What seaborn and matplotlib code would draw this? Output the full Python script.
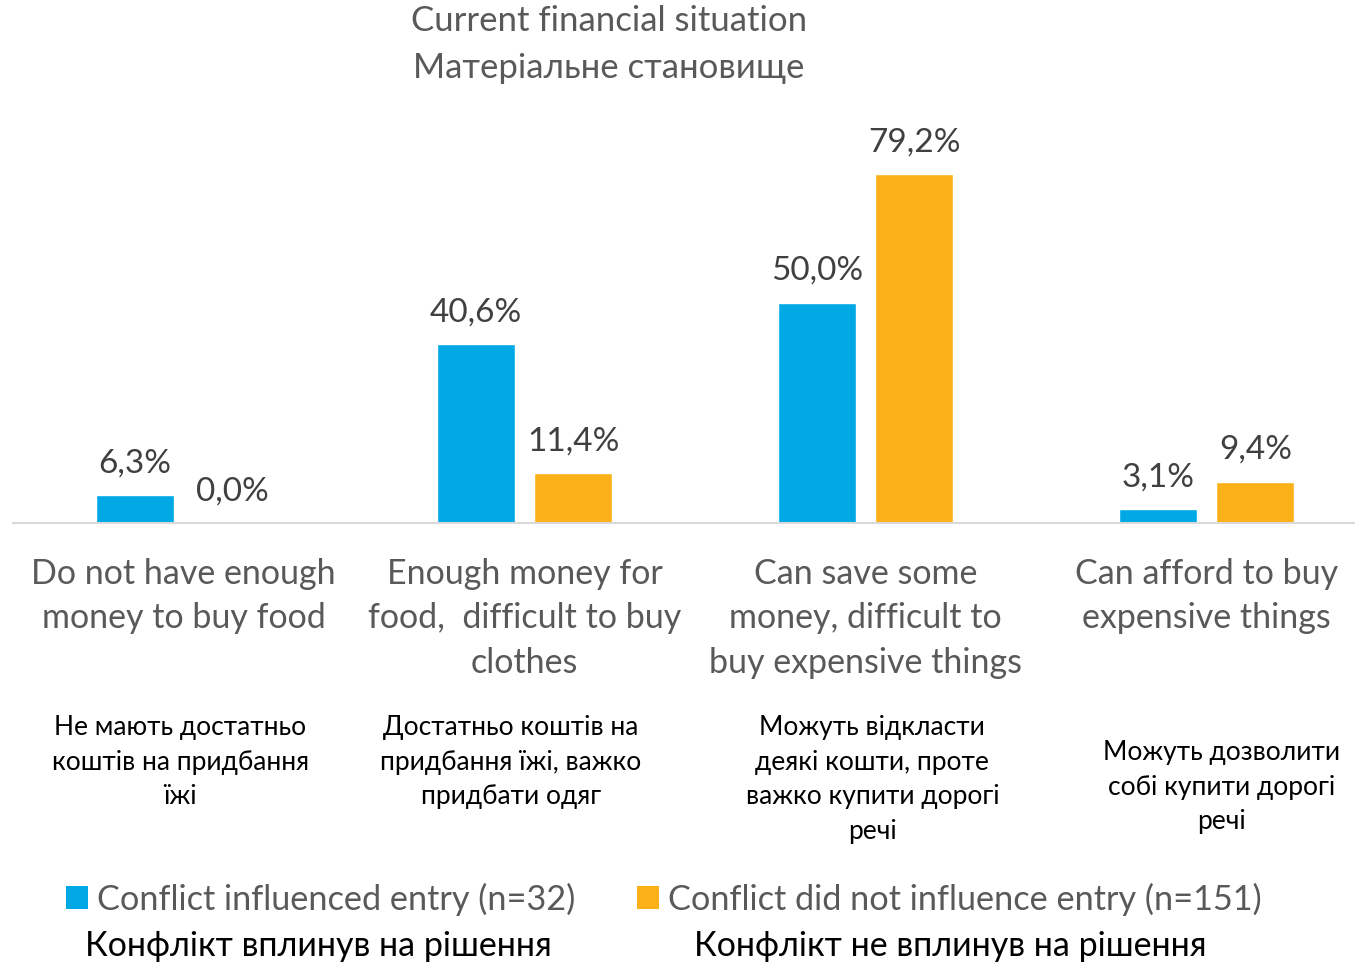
import matplotlib
matplotlib.use("Agg")
import matplotlib.pyplot as plt
import seaborn as sns
import pandas as pd
from matplotlib.transforms import blended_transform_factory
from matplotlib.patches import Patch

categories_en = [
    "Do not have enough\nmoney to buy food",
    "Enough money for\nfood,  difficult to buy\nclothes",
    "Can save some\nmoney, difficult to\nbuy expensive things",
    "Can afford to buy\nexpensive things",
]
categories_uk = [
    "Не мають достатньо\nкоштів на придбання\nїжі",
    "Достатньо коштів на\nпридбання їжі, важко\nпридбати одяг",
    "Можуть відкласти\nдеякі кошти, проте\nважко купити дорогі\nречі",
    "Можуть дозволити\nсобі купити дорогі\nречі",
]
series_names = ["Conflict influenced entry (n=32)", "Conflict did not influence entry (n=151)"]
series_names_uk = ["Конфлікт вплинув на рішення", "Конфлікт не вплинув на рішення"]
influenced = [6.3, 40.6, 50.0, 3.1]
not_influenced = [0.0, 11.4, 79.2, 9.4]
title_lines = ["Current financial situation", "Матеріальне становище"]

colors = ["#00A9E6", "#FDB119"]

sns.set_theme(style="white")
plt.rcParams["font.family"] = ["Lato", "DejaVu Sans"]

keys = ["c0", "c1", "c2", "c3"]
df = pd.DataFrame({
    "cat": keys * 2,
    "series": [series_names[0]] * 4 + [series_names[1]] * 4,
    "value": influenced + not_influenced,
})

W, H = 1355, 964
fig = plt.figure(figsize=(W / 100, H / 100), dpi=100)
ax_left, ax_right, ax_top, ax_bottom = 13, 1377, 120, 523
ax = fig.add_axes([ax_left / W, 1 - ax_bottom / H, (ax_right - ax_left) / W, (ax_bottom - ax_top) / H])

sns.barplot(data=df, x="cat", y="value", hue="series", order=keys, hue_order=series_names,
            palette=colors, width=0.572, gap=0.2, ax=ax, legend=False, saturation=1)
ax.set_ylim(0, 91.4)
ax.set_xlim(-0.5, 3.5)
for s in ["top", "right", "left"]:
    ax.spines[s].set_visible(False)
ax.spines["bottom"].set_color("#D9D9D9")
ax.spines["bottom"].set_linewidth(1.5)
ax.set_yticks([])
ax.set_xlabel("")
ax.set_ylabel("")

for cont in ax.containers:
    for bar in cont:
        h = bar.get_height()
        ax.annotate(f"{h:.1f}".replace(".", ",") + "%",
                    (bar.get_x() + bar.get_width() / 2, h),
                    xytext=(0, 12), textcoords="offset points",
                    ha="center", va="bottom", fontsize=24, color="#404040")

ax.set_xticks(range(4))
ax.set_xticklabels(categories_en, fontsize=24.5, color="#595959", linespacing=1.48)
ax.tick_params(axis="x", length=0, pad=25)

trans = blended_transform_factory(ax.transData, fig.transFigure)
uk_offsets = [-0.01, -0.04, 0.02, 0.045]
uk_tops = [715, 715, 715, 740]
for i, t in enumerate(categories_uk):
    ax.text(i + uk_offsets[i], 1 - uk_tops[i] / H, t, transform=trans, ha="center", va="top",
            fontsize=19, color="black", linespacing=1.48)

for i, line in enumerate(title_lines):
    fig.text(609 / W, 1 - [21, 68][i] / H, line, ha="center", va="center",
             fontsize=25, color="#595959")

handles = [Patch(facecolor=c, edgecolor="none") for c in colors]
leg = fig.legend(handles, series_names, loc="center left", bbox_to_anchor=(66 / W, 1 - 899 / H),
                 ncol=2, frameon=False, fontsize=24.7, handlelength=0.65, handleheight=0.65,
                 handletextpad=0.25, columnspacing=1.8, labelcolor="#595959", borderpad=0,
                 borderaxespad=0)
fig.text(318 / W, 1 - 946 / H, series_names_uk[0], ha="center", va="center", fontsize=24.5, color="black")
fig.text(950 / W, 1 - 946 / H, series_names_uk[1], ha="center", va="center", fontsize=24.5, color="black")

fig.savefig("out.png", dpi=100)
